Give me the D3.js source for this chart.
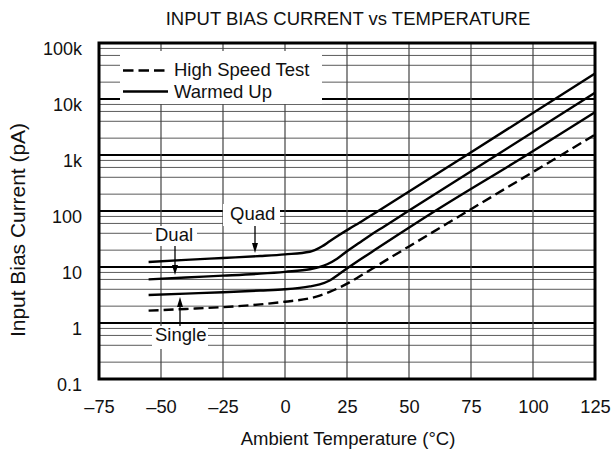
<!DOCTYPE html>
<html><head><meta charset="utf-8">
<script src="https://cdn.jsdelivr.net/npm/d3@7"></script>
<style>
html,body{margin:0;padding:0;background:#fff;}
svg text{font-family:"Liberation Sans",Arial,Helvetica,sans-serif;fill:#111;}
</style></head>
<body>
<svg id="chart" width="612" height="453"></svg>
<script>
// ---- data ----
const xTicks = [-75, -50, -25, 0, 25, 50, 75, 100, 125];
const yTicks = [0.1, 1, 10, 100, 1000, 10000, 100000];
const yTickLabels = ["0.1", "1", "10", "100", "1k", "10k", "100k"];

const quadT = [-55, -40, -25, -10, 0, 10, 12, 15, 18, 22, 26, 30, 37.6, 73.3, 125];
const quadV = [12.3, 13.4, 14.5, 15.7, 16.8, 18.7, 20, 23.4, 28.8, 37.6, 48.4, 61.7, 100, 1000, 28500];

const dualT = [-55, -40, -25, -10, 0, 10, 17, 21, 25, 30, 35, 40, 49.7, 85.4, 125];
const dualV = [6.0, 6.5, 7.0, 7.6, 8.2, 9.1, 11.2, 14.1, 19.1, 27.2, 38.5, 53.1, 100, 1000, 12900];

const singleT = [-55, -40, -25, -10, 0, 10, 14, 18, 22, 26, 30, 35, 40, 60.5, 97.5, 125];
const singleV = [3.16, 3.35, 3.55, 3.8, 4.0, 4.5, 4.9, 5.75, 7.6, 10.1, 13.3, 18.6, 26, 100, 1000, 5800];

const hsT = [-55, -40, -25, -10, 0, 10, 14, 18, 22, 26, 30, 35, 40, 50, 73.8, 125];
const hsV = [1.66, 1.78, 1.92, 2.15, 2.4, 2.76, 3.09, 3.59, 4.31, 5.31, 6.76, 9.2, 12.6, 23.3, 100, 2300];

const legendLabels = ["High Speed Test", "Warmed Up"];
const title = "INPUT BIAS CURRENT vs TEMPERATURE";
const xTitle = "Ambient Temperature (°C)";
const yTitle = "Input Bias Current (pA)";

// ---- layout ----
const L = 99, R = 595, T = 43, B = 379;
const svg = d3.select("#chart");
const x = d3.scaleLinear().domain([-75, 125]).range([L, R]);
const y = d3.scaleLog().domain([0.1, 100000]).range([B, T]);

// minor grid
const minor = [];
yTicks.slice(0, -1).forEach(d => [2, 4, 6, 8].forEach(m => minor.push(d * m)));
const g = svg.append("g");
g.selectAll("line.minor").data(minor).join("line")
  .attr("x1", L).attr("x2", R).attr("y1", d => y(d)).attr("y2", d => y(d))
  .attr("stroke", "#5a5a5a").attr("stroke-width", 1);
g.selectAll("line.major").data(yTicks.slice(1, -1)).join("line")
  .attr("x1", L).attr("x2", R).attr("y1", d => y(d)).attr("y2", d => y(d))
  .attr("stroke", "#000").attr("stroke-width", 2);
g.selectAll("line.vx").data(xTicks.slice(1, -1)).join("line")
  .attr("x1", d => x(d)).attr("x2", d => x(d)).attr("y1", T).attr("y2", B)
  .attr("stroke", "#444").attr("stroke-width", 1.2);

// annotation / legend backgrounds (white boxes cutting grid)
const boxes = svg.append("g");
boxes.append("rect").attr("x", 120).attr("y", 51).attr("width", 202).attr("height", 53).attr("fill", "#fff");
boxes.append("rect").attr("x", 223).attr("y", 204).attr("width", 57).attr("height", 22).attr("fill", "#fff");
boxes.append("rect").attr("x", 152).attr("y", 226).attr("width", 45).attr("height", 20).attr("fill", "#fff");
boxes.append("rect").attr("x", 152).attr("y", 326).attr("width", 56).attr("height", 23).attr("fill", "#fff");

// curves
const line = d3.line().x(d => x(d[0])).y(d => y(d[1])).curve(d3.curveMonotoneX);
const series = [
  {t: quadT, v: quadV, dash: null},
  {t: dualT, v: dualV, dash: null},
  {t: singleT, v: singleV, dash: null},
  {t: hsT, v: hsV, dash: "10,5"}
];
svg.append("g").selectAll("path").data(series).join("path")
  .attr("d", s => line(s.t.map((t, i) => [t, s.v[i]])))
  .attr("fill", "none").attr("stroke", "#000").attr("stroke-width", 2.4)
  .attr("stroke-dasharray", s => s.dash);

// frame
svg.append("rect").attr("x", L).attr("y", T).attr("width", R - L).attr("height", B - T)
  .attr("fill", "none").attr("stroke", "#000").attr("stroke-width", 3);

// axes (labels only, via d3 axes)
const xAxis = d3.axisBottom(x).tickValues(xTicks).tickSize(0).tickPadding(0)
  .tickFormat(d => d < 0 ? "\u2013" + Math.abs(d) : String(d));
const gx = svg.append("g").attr("transform", `translate(0,${B})`).call(xAxis);
gx.select(".domain").remove();
gx.selectAll("text").attr("y", 34).attr("dy", null).attr("font-size", 18.3)
  .style("font-family", "'Liberation Sans',Arial,sans-serif").attr("fill", "#111");

const yAxis = d3.axisLeft(y).tickValues(yTicks).tickSize(0).tickPadding(0)
  .tickFormat((d, i) => yTickLabels[i]);
const gy = svg.append("g").attr("transform", `translate(${L - 17},0)`).call(yAxis);
gy.select(".domain").remove();
gy.selectAll("text").attr("dy", null).attr("y", 11.5).attr("x", 0).attr("font-size", 18)
  .style("font-family", "'Liberation Sans',Arial,sans-serif").attr("fill", "#111");

// titles
svg.append("text").attr("x", 348).attr("y", 25).attr("text-anchor", "middle")
  .attr("font-size", 18.5).text(title);
svg.append("text").attr("x", 348).attr("y", 445).attr("text-anchor", "middle")
  .attr("font-size", 18.5).text(xTitle);
svg.append("text").attr("transform", "translate(25,230) rotate(-90)").attr("text-anchor", "middle")
  .attr("font-size", 19.5).attr("textLength", 214).attr("lengthAdjust", "spacingAndGlyphs")
  .text(yTitle);

// legend
const lg = svg.append("g");
lg.append("line").attr("x1", 123).attr("x2", 166).attr("y1", 70.5).attr("y2", 70.5)
  .attr("stroke", "#000").attr("stroke-width", 2.4).attr("stroke-dasharray", "10.5,5");
lg.append("line").attr("x1", 123).attr("x2", 168).attr("y1", 91.5).attr("y2", 91.5)
  .attr("stroke", "#000").attr("stroke-width", 2.4);
lg.append("text").attr("x", 174).attr("y", 76).attr("font-size", 18.5).text(legendLabels[0]);
lg.append("text").attr("x", 174).attr("y", 98).attr("font-size", 18.5).text(legendLabels[1]);

// annotations with arrows
const ann = [
  {label: "Quad", tx: 230, ty: 220, ax: 255, y0: 226, y1: 253},
  {label: "Dual", tx: 155, ty: 241, ax: 175, y0: 246, y1: 275},
  {label: "Single", tx: 155, ty: 341, ax: 180, y0: 326, y1: 297}
];
const ag = svg.append("g");
ann.forEach(a => {
  ag.append("text").attr("x", a.tx).attr("y", a.ty).attr("font-size", 18.5).text(a.label);
  const dir = a.y1 > a.y0 ? 1 : -1;
  ag.append("line").attr("x1", a.ax).attr("x2", a.ax).attr("y1", a.y0).attr("y2", a.y1 - dir * 8)
    .attr("stroke", "#000").attr("stroke-width", 1.3);
  ag.append("path")
    .attr("d", `M${a.ax},${a.y1} L${a.ax - 3},${a.y1 - dir * 10} L${a.ax + 3},${a.y1 - dir * 10} Z`)
    .attr("fill", "#000");
});
</script>
</body></html>
